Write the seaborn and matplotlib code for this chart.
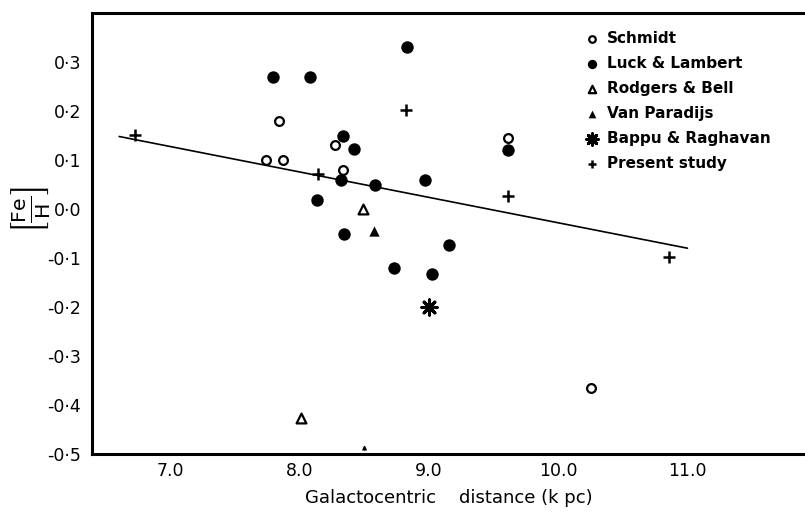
import matplotlib
matplotlib.use("Agg")
import matplotlib.pyplot as plt
import seaborn as sns
import pandas as pd

# ---- data ----
schmidt_x = [7.84, 8.27, 7.74, 7.87, 8.33, 9.61, 10.25]
schmidt_y = [0.18, 0.13, 0.10, 0.10, 0.08, 0.144, -0.365]

luck_x = [8.83, 7.79, 8.08, 8.33, 8.42, 8.32, 8.58, 8.97, 8.13, 8.34, 9.15, 8.73, 9.02, 9.61]
luck_y = [0.33, 0.27, 0.27, 0.15, 0.122, 0.06, 0.05, 0.06, 0.018, -0.05, -0.073, -0.12, -0.133, 0.12]

rodgers_x = [8.49, 8.01]
rodgers_y = [0.0, -0.427]

vanparadijs_x = [8.57]
vanparadijs_y = [-0.044]

bappu_x = [9.0]
bappu_y = [-0.20]

present_x = [6.72, 8.14, 8.82, 9.61, 10.86]
present_y = [0.152, 0.071, 0.202, 0.027, -0.097]

fit_x = [6.6, 11.0]
fit_y = [0.148, -0.080]

sun_x = 8.5

x_ticks = [7.0, 8.0, 9.0, 10.0, 11.0]
x_tick_labels = ["7.0", "8.0", "9.0", "10.0", "11.0"]
y_ticks = [0.3, 0.2, 0.1, 0.0, -0.1, -0.2, -0.3, -0.4, -0.5]
y_tick_labels = ["0·3", "0·2", "0·1", "0·0", "-0·1", "-0·2", "-0·3", "-0·4", "-0·5"]

sns.set_theme(style="white")
plt.rcParams["font.family"] = ["DejaVu Sans"]
plt.rcParams["text.color"] = "black"

fig = plt.figure(figsize=(8.05, 5.2), dpi=100)
ax = fig.add_axes([92 / 805, 66 / 520, 1 - 92 / 805, (454 - 13) / 520])

# regression line
sns.lineplot(x=fit_x, y=fit_y, ax=ax, color="black", linewidth=1.2, legend=False)

groups = [
    (schmidt_x, schmidt_y, "Schmidt", dict(marker="o", s=40, facecolor="white", edgecolor="black", linewidth=1.6)),
    (luck_x, luck_y, "Luck & Lambert", dict(marker="o", s=80, color="black", edgecolor="black", linewidth=0)),
    (rodgers_x, rodgers_y, "Rodgers & Bell", dict(marker="^", s=50, facecolor="white", edgecolor="black", linewidth=1.6)),
    (vanparadijs_x, vanparadijs_y, "Van Paradijs", dict(marker="^", s=55, color="black", edgecolor="black", linewidth=0)),
    (bappu_x, bappu_y, "Bappu & Raghavan", dict(marker=(8, 2, 0), s=120, color="black", linewidth=2.2)),
    (present_x, present_y, "Present study", dict(marker="+", s=70, color="black", linewidth=1.8)),
]
for gx, gy, lab, kw in groups:
    df = pd.DataFrame({"x": gx, "y": gy})
    sns.scatterplot(data=df, x="x", y="y", ax=ax, label=lab, zorder=3, **kw)

# sun position arrow on the axis
ax.annotate("", xy=(sun_x, -0.476), xytext=(sun_x, -0.497),
            arrowprops=dict(arrowstyle="-|>", color="black", lw=1.0, mutation_scale=6),
            zorder=5)

ax.set_xlim(6.39, 11.91)
ax.set_ylim(-0.5, 0.4)
ax.set_xticks(x_ticks)
ax.set_xticklabels(x_tick_labels)
ax.set_yticks(y_ticks)
ax.set_yticklabels(y_tick_labels)
ax.tick_params(axis="both", direction="in", length=6, width=1.5, labelsize=12.5, colors="black",
               pad=8)
ax.tick_params(axis="x", pad=6)
for side in ["left", "bottom", "top"]:
    ax.spines[side].set_visible(True)
    ax.spines[side].set_color("black")
    ax.spines[side].set_linewidth(2.2)
ax.spines["right"].set_visible(False)

ax.set_xlabel("Galactocentric    distance (k pc)", fontsize=13, labelpad=6, color="black")
ax.set_ylabel("")
fig.text(30 / 805, 1 - 210 / 520, r"$\left[\frac{\mathrm{Fe}}{\mathrm{H}}\right]$", fontsize=21,
         rotation=90, ha="center", va="center", color="black")

leg = ax.legend(loc="upper left", bbox_to_anchor=(0.677, 0.98), frameon=False,
                fontsize=11, handletextpad=0.5, handlelength=1.0, labelspacing=0.66,
                borderaxespad=0.2, markerscale=0.75)
for t in leg.get_texts():
    t.set_fontweight("bold")
    t.set_color("black")

fig.savefig("out.png", dpi=100)
